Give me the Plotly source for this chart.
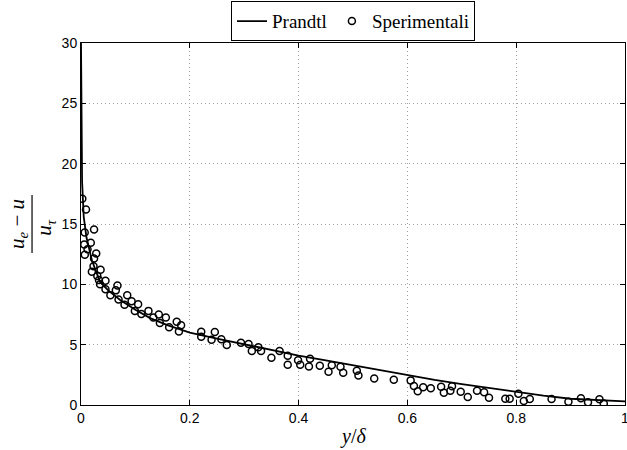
import plotly.graph_objects as go

# Prandtl curve
prandtl_x = [0.0, 0.001, 0.002, 0.005, 0.01, 0.02, 0.035, 0.05, 0.072, 0.1, 0.127, 0.16, 0.2, 0.25,
             0.3, 0.35, 0.4, 0.45, 0.5, 0.55, 0.6, 0.65, 0.7, 0.75, 0.8, 0.85, 0.9, 0.95, 1.0]
prandtl_y = [30.0, 22.0, 18.5, 15.6, 13.9, 12.0, 10.2, 9.5, 8.7, 7.9, 7.2, 6.6, 6.0, 5.5,
             5.02, 4.55, 4.1, 3.7, 3.3, 2.9, 2.45, 2.08, 1.73, 1.42, 1.07, 0.78, 0.52, 0.38, 0.3]

exp_x = [0.0024, 0.0092, 0.0068, 0.024, 0.006, 0.018, 0.012, 0.007, 0.028, 0.024, 0.023, 0.020,
         0.036, 0.030, 0.033, 0.035, 0.045, 0.045, 0.067, 0.064, 0.054, 0.069, 0.085, 0.093,
         0.080, 0.105, 0.099, 0.111, 0.124, 0.143, 0.133, 0.156, 0.145, 0.162, 0.176, 0.184,
         0.180, 0.221, 0.221, 0.246, 0.240, 0.258, 0.268, 0.294, 0.308, 0.314, 0.326, 0.331,
         0.350, 0.365, 0.380, 0.380, 0.399, 0.403, 0.421, 0.419, 0.439, 0.455, 0.461, 0.477,
         0.482, 0.507, 0.510, 0.539, 0.575, 0.606, 0.612, 0.619, 0.629, 0.643, 0.662, 0.667,
         0.679, 0.682, 0.698, 0.711, 0.728, 0.741, 0.750, 0.780, 0.788, 0.804, 0.814, 0.825,
         0.865, 0.896, 0.919, 0.932, 0.953, 0.961]
exp_y = [17.1, 16.2, 14.3, 14.55, 13.3, 13.45, 12.9, 12.45, 12.55, 12.15, 11.5, 11.05,
         11.2, 10.7, 10.35, 10.0, 10.3, 9.6, 9.9, 9.5, 9.1, 8.75, 9.1, 8.6,
         8.3, 8.35, 7.8, 7.55, 7.8, 7.5, 7.25, 7.25, 6.8, 6.45, 6.9, 6.6,
         6.1, 6.07, 5.66, 6.05, 5.41, 5.44, 4.97, 5.16, 5.05, 4.47, 4.78, 4.47,
         3.92, 4.47, 4.09, 3.34, 3.7, 3.34, 3.84, 3.2, 3.26, 2.76, 3.29, 3.17,
         2.68, 2.84, 2.45, 2.2, 2.1, 2.04, 1.57, 1.13, 1.47, 1.38, 1.52, 1.02,
         1.19, 1.55, 1.1, 0.66, 1.19, 1.05, 0.6, 0.52, 0.52, 0.94, 0.33, 0.5,
         0.5, 0.27, 0.55, 0.22, 0.47, 0.12]

x_ticks = [0, 0.2, 0.4, 0.6, 0.8, 1]
x_tick_labels = ["0", "0.2", "0.4", "0.6", "0.8", "1"]
y_ticks = [0, 5, 10, 15, 20, 25, 30]

fig = go.Figure()
fig.add_trace(go.Scatter(x=prandtl_x, y=prandtl_y, mode="lines", name="Prandtl",
                         line=dict(color="black", width=1.8)))
fig.add_trace(go.Scatter(x=exp_x, y=exp_y, mode="markers", name="Sperimentali",
                         marker=dict(symbol="circle-open", size=7, color="black",
                                     line=dict(color="black", width=1.5))))

axis_common = dict(showline=True, linecolor="black", linewidth=1, mirror="ticks",
                   ticks="inside", ticklen=5, tickcolor="black",
                   showgrid=True, gridcolor="#a0a0a0", griddash="1px,3px", gridwidth=1,
                   zeroline=False, ticklabeloverflow="allow",
                   tickfont=dict(family="Liberation Sans", size=14, color="black"))

fig.update_xaxes(range=[0, 1], tickvals=x_ticks, ticktext=x_tick_labels, **axis_common)
fig.update_yaxes(range=[0, 30], tickvals=y_ticks, **axis_common)

serif = "Liberation Serif"
fig.update_layout(
    width=627, height=450,
    margin=dict(l=81, r=2, t=43, b=45, autoexpand=False),
    plot_bgcolor="white", paper_bgcolor="white",
    showlegend=True,
    legend=dict(orientation="h", x=0.5, xanchor="center", y=1.005, yanchor="bottom",
                bordercolor="black", borderwidth=1, bgcolor="white",
                font=dict(family=serif, size=19, color="black"),
                itemwidth=30, tracegroupgap=0),
    annotations=[
        dict(text="<i>y</i>/<i>δ</i>", xref="paper", yref="paper", x=0.5, y=-0.088,
             xanchor="center", yanchor="middle", showarrow=False,
             font=dict(family=serif, size=20, color="black")),
        dict(text="<i>u</i><sub><i>e</i></sub> − <i>u</i>", xref="paper", yref="paper",
             x=-0.116, y=0.5, xanchor="center", yanchor="middle", showarrow=False,
             textangle=-90, font=dict(family=serif, size=21, color="black")),
        dict(text="<i>u</i><sub><i>τ</i></sub>", xref="paper", yref="paper",
             x=-0.066, y=0.49, xanchor="center", yanchor="middle", showarrow=False,
             textangle=-90, font=dict(family=serif, size=21, color="black")),
    ],
    shapes=[dict(type="line", xref="paper", yref="paper", x0=-0.090, x1=-0.090,
                 y0=0.42, y1=0.58, line=dict(color="black", width=1.2))],
)

fig.write_html("out.html")
